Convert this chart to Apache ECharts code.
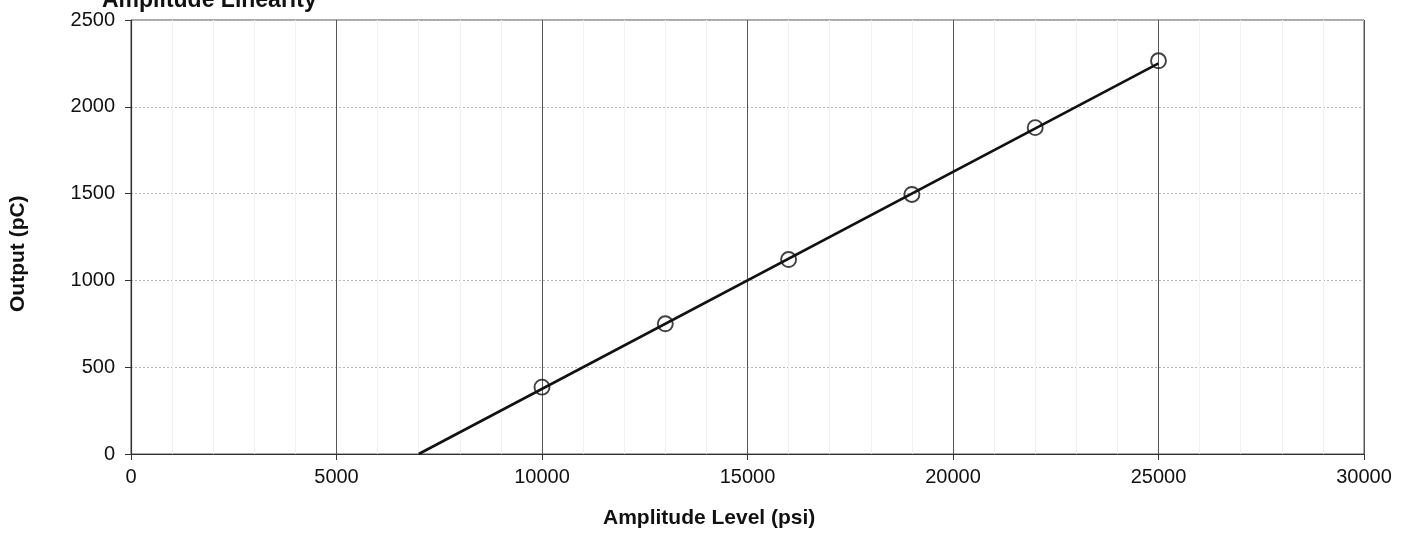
<!DOCTYPE html>
<html>
<head>
<meta charset="utf-8">
<script src="https://cdn.jsdelivr.net/npm/echarts@6/dist/echarts.min.js"></script>
<style>html,body{margin:0;padding:0;background:#fff}#c{width:1407px;height:543px}</style>
</head>
<body>
<div id="c"></div>
<script>
// Measured points: amplitude level (psi) and output (pC)
const amplitudePsi = [10000, 13000, 16000, 19000, 22000, 25000];
const outputPc = [385, 750, 1120, 1495, 1880, 2265];
// Trend line endpoints
const trendPsi = [7000, 25000];
const trendPc = [0, 2250];
const xTicks = [0, 5000, 10000, 15000, 20000, 25000, 30000];
const yTicks = [0, 500, 1000, 1500, 2000, 2500];

const chart = echarts.init(document.getElementById('c'));
const font = 'Liberation Sans, Arial, sans-serif';
chart.setOption({
  animation: false,
  backgroundColor: '#fff',
  title: {
    text: 'Amplitude Linearity',
    left: 97, top: -16,
    textStyle: {fontFamily: font, fontWeight: 'bold', fontSize: 23, color: '#111'}
  },
  grid: {left: 131, right: 43, top: 20, bottom: 89, show: true, borderColor: '#555', borderWidth: 1},
  xAxis: {
    type: 'value', min: xTicks[0], max: xTicks[xTicks.length - 1], interval: 5000,
    axisLine: {show: true, onZero: false, lineStyle: {color: '#333', width: 1.2}},
    axisTick: {show: true, length: 6, lineStyle: {color: '#333'}},
    axisLabel: {fontFamily: font, fontSize: 20, color: '#111', margin: 13, formatter: v => String(v)},
    splitLine: {show: true, lineStyle: {color: '#555', width: 1}},
    minorTick: {show: false, splitNumber: 5},
    minorSplitLine: {show: true, lineStyle: {color: '#f1f1f1', width: 1}}
  },
  yAxis: {
    type: 'value', min: yTicks[0], max: yTicks[yTicks.length - 1], interval: 500,
    axisLine: {show: true, lineStyle: {color: '#333', width: 1.2}},
    axisTick: {show: true, length: 6, lineStyle: {color: '#333'}},
    axisLabel: {fontFamily: font, fontSize: 20, color: '#111', margin: 16, formatter: v => String(v)},
    splitLine: {show: true, lineStyle: {color: '#b5b5b5', width: 1, type: [2, 2]}}
  },
  graphic: [
    {type: 'text', left: 603, top: 508,
      style: {text: 'Amplitude Level (psi)', fontFamily: font, fontWeight: 'bold', fontSize: 21, fill: '#111'}},
    {type: 'text', x: 8, y: 312, rotation: Math.PI / 2,
      style: {text: 'Output (pC)', fontFamily: font, fontWeight: 'bold', fontSize: 21, fill: '#111'}}
  ],
  series: [
    {
      type: 'line', name: 'trend',
      data: trendPsi.map((x, i) => [x, trendPc[i]]),
      showSymbol: false, symbol: 'none',
      lineStyle: {color: '#111', width: 2.6},
      z: 2
    },
    {
      type: 'scatter', name: 'Output',
      data: amplitudePsi.map((x, i) => [x, outputPc[i]]),
      symbol: 'circle', symbolSize: 15,
      itemStyle: {color: 'rgba(255,255,255,0)', borderColor: '#111', borderWidth: 1.9},
      z: 3
    }
  ]
});
</script>
</body>
</html>
